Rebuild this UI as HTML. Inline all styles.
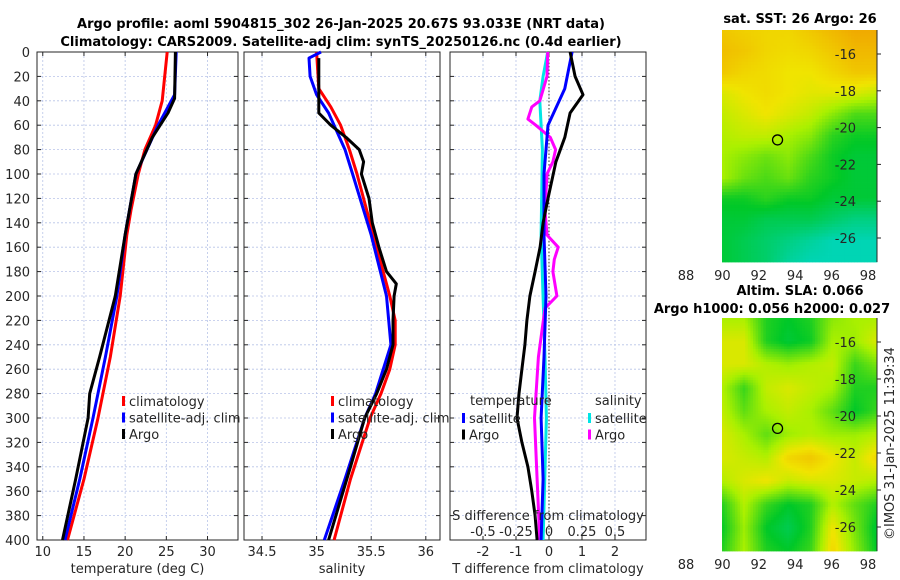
<!DOCTYPE html>
<html><head><meta charset="utf-8"><style>
body{margin:0;background:#fff;}
svg{display:block;font-family:"DejaVu Sans","Liberation Sans",sans-serif;}
.t{font-size:13px;fill:#262626;}
.b{font-size:13px;font-weight:bold;fill:#000;}
.g{stroke:#b8c4e8;stroke-width:0.8;stroke-dasharray:2,2;}
.ax{fill:none;stroke:#262626;stroke-width:1;}
</style></head><body>
<svg id="s" width="900" height="580" viewBox="0 0 900 580">
<text class="b" x="341" y="28" text-anchor="middle">Argo profile: aoml 5904815_302 26-Jan-2025 20.67S 93.033E (NRT data)</text>
<text class="b" x="341" y="46" text-anchor="middle">Climatology: CARS2009. Satellite-adj clim: synTS_20250126.nc (0.4d earlier)</text>
<text class="b" x="800" y="23" text-anchor="middle">sat. SST: 26 Argo: 26</text>
<text class="b" x="800" y="295" text-anchor="middle">Altim. SLA: 0.066</text>
<text class="b" x="772" y="313" text-anchor="middle">Argo h1000: 0.056 h2000: 0.027</text>
<text class="t" transform="translate(894,540) rotate(-90)">©IMOS 31-Jan-2025 11:39:34</text>
<g id="g"></g>
</svg>
<script>
// ---- data ----
const depthTicks=[0,20,40,60,80,100,120,140,160,180,200,220,240,260,280,300,320,340,360,380,400];
const tTicks=[10,15,20,25,30];
const sTicks=[34.5,35,35.5,36];
const dtTicks=[-2,-1,0,1,2];
const dsTicks=[-0.5,-0.25,0,0.25,0.5];
const climTDepth=[0,40,60,80,100,130,150,200,250,300,350,400];
const climT=[25.1,24.5,23.7,22.4,21.6,20.7,20.2,19.4,18.2,16.7,15.0,13.0];
const satTDepth=[0,35,60,100,150,200,250,300,350,400];
const satT=[26.2,26.0,24.0,21.3,20.0,19.0,17.6,16.1,14.5,12.7];
const argoTDepth=[0,38,50,70,100,150,200,250,280,300,350,400];
const argoT=[26.1,26.0,25.2,23.3,21.3,20.0,18.8,16.9,15.7,15.5,14.0,12.4];
const climSDepth=[0,30,45,60,80,100,140,180,200,220,240,260,280,300,350,400];
const climS=[35.0,35.02,35.13,35.22,35.3,35.37,35.49,35.61,35.67,35.72,35.72,35.67,35.59,35.49,35.31,35.16];
const satSDepth=[0,5,20,35,50,80,100,150,200,240,280,300,350,400];
const satS=[35.04,34.93,34.94,35.0,35.11,35.26,35.33,35.5,35.64,35.68,35.54,35.44,35.26,35.07];
const argoSDepth=[5,50,60,70,80,90,100,120,140,160,180,190,200,220,240,260,280,300,340,400];
const argoS=[35.02,35.02,35.13,35.27,35.39,35.43,35.41,35.48,35.51,35.57,35.64,35.73,35.71,35.7,35.7,35.64,35.55,35.44,35.31,35.11];
const dTsatDepth=[0,30,60,100,150,200,250,300,350,400];
const dTsat=[0.7,0.48,-0.03,-0.15,-0.15,-0.09,-0.15,-0.24,-0.18,-0.24];
const dTargoDepth=[0,20,35,50,70,90,120,140,160,180,200,220,240,260,280,300,320,340,360,380,400];
const dTargo=[0.64,0.79,1.03,0.64,0.48,0.21,-0.03,-0.18,-0.27,-0.42,-0.58,-0.67,-0.73,-0.82,-0.91,-0.97,-0.82,-0.64,-0.52,-0.42,-0.36];
const dSsatDepth=[0,20,40,80,150,250,300,400];
const dSsat=[-0.01,-0.045,-0.07,-0.05,-0.06,-0.03,-0.02,-0.045];
const dSargoDepth=[0,20,40,45,55,60,70,80,90,100,130,150,160,170,180,200,210,250,300,350,400];
const dSargo=[-0.01,-0.015,-0.07,-0.13,-0.16,-0.1,0.01,0.05,0.03,-0.015,-0.03,-0.015,0.07,0.04,0.03,0.06,-0.03,-0.08,-0.11,-0.09,-0.07];
const latTicks=[-16,-18,-20,-22,-24,-26];
const lonTicks=[88,90,92,94,96,98];
const sstGrid=[[.85,.82,.8,.8,.85,.9,.95,.95],[.88,.85,.8,.78,.8,.85,.9,.9],[.85,.8,.78,.75,.75,.8,.85,.85],[.7,.75,.78,.75,.72,.72,.7,.65],[.65,.7,.75,.7,.65,.55,.45,.45],[.62,.65,.65,.6,.55,.4,.35,.35],[.6,.55,.5,.55,.45,.35,.3,.3],[.6,.5,.45,.5,.4,.35,.3,.3],[.35,.35,.4,.35,.35,.3,.3,.3],[.3,.3,.25,.25,.25,.2,.15,.15],[.3,.25,.2,.15,.1,.05,.05,.05],[.3,.25,.2,.1,.05,.05,.05,.05]];
const slaGrid=[[.6,.6,.38,.33,.38,.55,.6,.6],[.7,.7,.38,.3,.35,.6,.58,.7],[.7,.7,.62,.58,.62,.65,.42,.52],[.62,.42,.65,.7,.65,.6,.38,.38],[.65,.48,.6,.65,.6,.48,.33,.42],[.7,.6,.48,.58,.62,.58,.58,.62],[.7,.66,.62,.8,.85,.75,.66,.8],[.62,.7,.75,.66,.7,.7,.66,.62],[.38,.62,.42,.33,.38,.62,.48,.38],[.33,.58,.33,.25,.38,.75,.52,.3],[.38,.6,.38,.33,.42,.8,.56,.33]];
const argoLon=93.03, argoLat=-20.67;

// ---- helpers ----
const NS="http://www.w3.org/2000/svg";
const G=document.getElementById('g');
function mk(tag,at,parent){const e=document.createElementNS(NS,tag);for(const k in at)e.setAttribute(k,at[k]);(parent||G).appendChild(e);return e;}
const Y0=52,Y1=540;
const yD=d=>Y0+(d/400)*(Y1-Y0);
const panels=[
 {x0:37,x1:238,lo:9.3,hi:33.7,ticks:tTicks,lab:'temperature (deg C)',name:'temperature'},
 {x0:244,x1:440,lo:34.335,hi:36.13,ticks:sTicks,lab:'salinity',name:'salinity'},
 {x0:450,x1:646,lo:-3,hi:2.94,ticks:dtTicks,lab:'T difference from climatology',name:'difference'}];
panels.forEach(p=>p.f=v=>p.x0+(v-p.lo)/(p.hi-p.lo)*(p.x1-p.x0));

panels.forEach((p,i)=>{
 const gp=mk('g',{});
 
 
 depthTicks.forEach(d=>{mk('line',{x1:p.x0,x2:p.x1,y1:yD(d),y2:yD(d),class:'g'},gp);
  mk('line',{x1:p.x0,x2:p.x0+4,y1:yD(d),y2:yD(d),stroke:'#262626'},gp);
  mk('line',{x1:p.x1,x2:p.x1-4,y1:yD(d),y2:yD(d),stroke:'#262626'},gp);});
 p.ticks.forEach(v=>{const x=p.f(v);mk('line',{x1:x,x2:x,y1:Y0,y2:Y1,class:'g'},gp);
  mk('line',{x1:x,x2:x,y1:Y1,y2:Y1-4,stroke:'#262626'},gp);mk('line',{x1:x,x2:x,y1:Y0,y2:Y0+4,stroke:'#262626'},gp);
  const t=mk('text',{x:x,y:556,class:'t','text-anchor':'middle'},gp);t.textContent=v;
  });
 const xl=mk('text',{x:(p.x0+p.x1)/2,y:573,class:'t','text-anchor':'middle'},gp);xl.textContent=p.lab;
 
 mk('rect',{x:p.x0,y:Y0,width:p.x1-p.x0,height:Y1-Y0,class:'ax'},gp);
});
depthTicks.forEach(d=>{const t=mk('text',{x:30,y:yD(d)+5,class:'t','text-anchor':'end'});t.textContent=d;
 });

const p3=panels[2];
mk('line',{x1:p3.f(0),x2:p3.f(0),y1:Y0,y2:Y1,stroke:'#333','stroke-dasharray':'1.5,2','stroke-width':1});

function line(p,depths,vals,color,name,scale){
 const pts=depths.map((d,i)=>p.f(vals[i]*(scale||1)).toFixed(1)+','+yD(d).toFixed(1)).join(' ');
 const e=mk('polyline',{points:pts,fill:'none',stroke:color,'stroke-width':3,'stroke-linejoin':'round'});
 
 
}
line(panels[0],climTDepth,climT,'#ff0000','clim-temperature-line');
line(panels[0],satTDepth,satT,'#0000ff','sat-temperature-line');
line(panels[0],argoTDepth,argoT,'#000','argo-temperature-line');
line(panels[1],climSDepth,climS,'#ff0000','clim-salinity-line');
line(panels[1],satSDepth,satS,'#0000ff','sat-salinity-line');
line(panels[1],argoSDepth,argoS,'#000','argo-salinity-line');
line(p3,dSsatDepth,dSsat,'#00e5e5','sat-salinity-diff-line',4);
line(p3,dSargoDepth,dSargo,'#ff00ff','argo-salinity-diff-line',4);
line(p3,dTsatDepth,dTsat,'#0000ff','sat-temperature-diff-line');
line(p3,dTargoDepth,dTargo,'#000','argo-temperature-diff-line');

const sl=mk('text',{x:548,y:520,class:'t','text-anchor':'middle'});sl.textContent='S difference from climatology';

dsTicks.forEach(v=>{const t=mk('text',{x:p3.f(v*4),y:536,class:'t','text-anchor':'middle'});t.textContent=v;
 });

function legend(x,y,items){
 items.forEach((it,i)=>{const yy=y+i*16.5;
  mk('rect',{x:x,y:yy-9,width:3,height:10,fill:it[1]});
  const t=mk('text',{x:x+7,y:yy+1,class:'t'});t.textContent=it[0];
  });
}
legend(122,405,[['climatology','#ff0000'],['satellite-adj. clim','#0000ff'],['Argo','#000']]);
legend(331,405,[['climatology','#ff0000'],['satellite-adj. clim','#0000ff'],['Argo','#000']]);
[['temperature',470,405],['salinity',595,405]].forEach(a=>{const t=mk('text',{x:a[1],y:a[2],class:'t'});t.textContent=a[0];
 });
legend(462,422,[['satellite','#0000ff'],['Argo','#000']]);
legend(588,422,[['satellite','#00e5e5'],['Argo','#ff00ff']]);

// ---- maps ----
const stops=[[0,[0,215,205]],[.33,[0,200,40]],[.6,[170,240,0]],[.75,[240,228,0]],[1,[240,155,0]]];
function cmap(v){v=Math.max(0,Math.min(1,v));for(let i=1;i<stops.length;i++){if(v<=stops[i][0]){const a=stops[i-1],b=stops[i],t=(v-a[0])/(b[0]-a[0]);
 return 'rgb('+a[1].map((c,k)=>Math.round(c+(b[1][k]-c)*t)).join(',')+')';}}return 'rgb(240,155,0)';}
function interp(grid,u,v){const R=grid.length-1,C=grid[0].length-1;const y=v*R,x=u*C;const i=Math.min(Math.floor(y),R-1),j=Math.min(Math.floor(x),C-1);
 const fy=y-i,fx=x-j;return grid[i][j]*(1-fx)*(1-fy)+grid[i][j+1]*fx*(1-fy)+grid[i+1][j]*(1-fx)*fy+grid[i+1][j+1]*fx*fy;}
function map(top,bot,grid,name,pix){
 const L=722,R=877;const lonf=l=>686+(l-88)*18.2;const latf=a=>top+24+(-16-a)/10*(bot-top-48);
 const gm=mk('g',{});
 const nx=Math.round((R-L)/pix),ny=Math.round((bot-top)/pix);const w=(R-L)/nx,h=(bot-top)/ny;
 for(let r=0;r<ny;r++)for(let c=0;c<nx;c++){mk('rect',{x:(L+c*w).toFixed(2),y:(top+r*h).toFixed(2),width:(w+0.4).toFixed(2),height:(h+0.4).toFixed(2),fill:cmap(interp(grid,(c+.5)/nx,(r+.5)/ny))},gm);}
 mk('line',{x1:R,x2:R,y1:top,y2:bot,stroke:'#262626'},gm);
 lonTicks.forEach(l=>{const x=lonf(l);
  const t=mk('text',{x:x,y:bot+18,class:'t','text-anchor':'middle'},gm);t.textContent=l;
  });
 latTicks.forEach(a=>{const y=latf(a);mk('line',{x1:R,x2:R+4,y1:y,y2:y,stroke:'#262626'},gm);
  const t=mk('text',{x:R-21,y:y+5,class:'t','text-anchor':'end'},gm);t.textContent=a;
  });
 const m=mk('circle',{cx:lonf(argoLon),cy:latf(argoLat),r:5,fill:'none',stroke:'#000','stroke-width':1.3},gm);
 
}
map(30,262,sstGrid,'sst-map',3.2);
map(318,551,slaGrid,'sla-map',2.6);
</script>
</body></html>
